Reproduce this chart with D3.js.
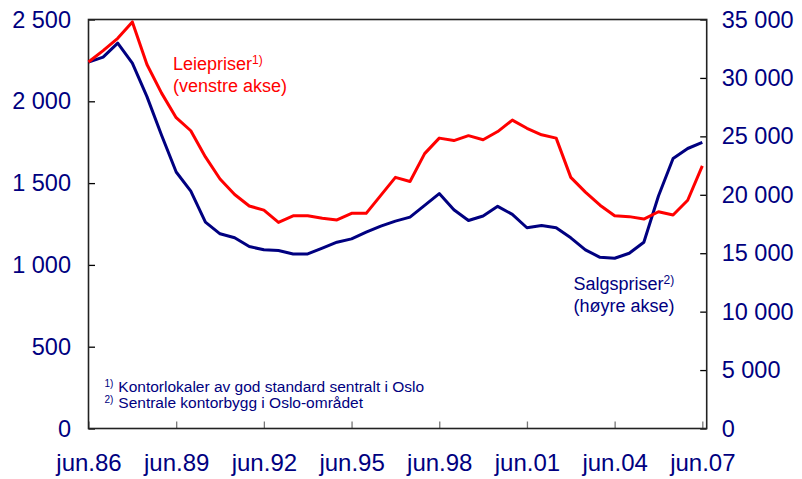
<!DOCTYPE html>
<html>
<head>
<meta charset="utf-8">
<script src="https://cdn.jsdelivr.net/npm/d3@7"></script>
<style>
  body { margin: 0; background: #fff; }
  text { font-family: "Liberation Sans", Arial, sans-serif; }
</style>
</head>
<body>
<script>
// Half-yearly observations, jun.86 .. jun.07
const tickLabels = ["jun.86", "jun.89", "jun.92", "jun.95", "jun.98", "jun.01", "jun.04", "jun.07"];

// Leiepriser (venstre akse)
const rent = [2240, 2310, 2385, 2485, 2225, 2050, 1900, 1820, 1660, 1525,
              1430, 1360, 1335, 1260, 1300, 1300, 1285, 1275, 1315, 1315,
              1425, 1535, 1510, 1680, 1775, 1760, 1790, 1765, 1815, 1885,
              1835, 1795, 1775, 1535, 1445, 1365, 1300, 1295, 1280, 1325,
              1305, 1395, 1605];

// Salgspriser (høyre akse)
const sales = [31350, 31780, 32980, 31260, 28400, 25100, 21950, 20320, 17660, 16660,
               16320, 15570, 15290, 15230, 14940, 14940, 15430, 15940, 16230, 16800,
               17320, 17750, 18090, 19090, 20100, 18720, 17800, 18180, 19010, 18320,
               17180, 17380, 17180, 16320, 15290, 14650, 14570, 15000, 15940, 19900,
               23100, 23960, 24480];

const leftTicks = [0, 500, 1000, 1500, 2000, 2500];
const rightTicks = [0, 5000, 10000, 15000, 20000, 25000, 30000, 35000];

const width = 802, height = 479;
const margin = { top: 19.5, bottom: 50.5, left: 88.5, right: 95.3 };
const navy = "#000080";

const locale = d3.formatLocale({ decimal: ",", thousands: " ", grouping: [3], currency: ["", ""] });
const fmt = locale.format(",d");

let svg = d3.select("body")
  .append("svg")
  .attr("width", width)
  .attr("height", height);

// x runs a little past the last observation, like the original
const x = d3.scaleLinear()
  .domain([0, 42.3])
  .range([margin.left, width - margin.right]);

const yL = d3.scaleLinear()
  .domain([0, 2500])
  .range([height - margin.bottom, margin.top]);

const yR = d3.scaleLinear()
  .domain([0, 35000])
  .range([height - margin.bottom, margin.top]);

// Axes
const gx = svg.append("g")
  .attr("transform", `translate(0,${height - margin.bottom})`)
  .call(d3.axisBottom(x)
    .tickValues(tickLabels.map((d, i) => i * 6))
    .tickFormat((d, i) => tickLabels[i])
    .tickSizeInner(-7).tickSizeOuter(0).tickPadding(25));
gx.selectAll(".tick line").attr("stroke", "#777").attr("stroke-width", 1.3);

const gl = svg.append("g")
  .attr("transform", `translate(${margin.left},0)`)
  .call(d3.axisLeft(yL)
    .tickValues(leftTicks)
    .tickFormat(fmt)
    .tickSizeInner(-6.5).tickSizeOuter(0).tickPadding(17.5));
gl.selectAll(".tick line").attr("stroke-width", 1.3);

const gr = svg.append("g")
  .attr("transform", `translate(${width - margin.right},0)`)
  .call(d3.axisRight(yR)
    .tickValues(rightTicks)
    .tickFormat(fmt)
    .tickSizeInner(-6.5).tickSizeOuter(0).tickPadding(15));
gr.selectAll(".tick line").attr("stroke-width", 1.3);

svg.selectAll(".domain").remove();
svg.selectAll(".tick text")
  .attr("fill", navy)
  .style("font-size", "23.5px")
  .style("font-family", "'Liberation Sans', Arial, sans-serif");
gx.selectAll(".tick text").style("font-size", "24px");

// Frame
svg.append("rect")
  .attr("x", margin.left)
  .attr("y", margin.top)
  .attr("width", width - margin.left - margin.right)
  .attr("height", height - margin.top - margin.bottom)
  .attr("fill", "none")
  .attr("stroke", "#222")
  .attr("stroke-width", 1.6);

// Lines
const rentLine = d3.line()
  .x((d, i) => x(i))
  .y(d => yL(d));

const salesLine = d3.line()
  .x((d, i) => x(i))
  .y(d => yR(d));

svg.append("path")
  .datum(sales)
  .attr("fill", "none")
  .attr("stroke", navy)
  .attr("stroke-width", 3)
  .attr("stroke-linejoin", "round")
  .attr("d", salesLine);

svg.append("path")
  .datum(rent)
  .attr("fill", "none")
  .attr("stroke", "#ff0000")
  .attr("stroke-width", 3)
  .attr("stroke-linejoin", "round")
  .attr("d", rentLine);

// Series labels
function label(xPos, yPos, lines, sup, color) {
  const t = svg.append("g").attr("fill", color).style("font-size", "18px");
  const first = t.append("text").attr("x", xPos).attr("y", yPos);
  first.append("tspan").text(lines[0]);
  first.append("tspan").attr("dy", -6).style("font-size", "12px").text(sup);
  t.append("text").attr("x", xPos).attr("y", yPos + 21.5).text(lines[1]);
}
label(173, 70, ["Leiepriser", "(venstre akse)"], "1)", "#ff0000");
label(573.5, 290, ["Salgspriser", "(høyre akse)"], "2)", navy);

// Footnotes
const notes = [
  ["1)", "Kontorlokaler av god standard sentralt i Oslo"],
  ["2)", "Sentrale kontorbygg i Oslo-området"]
];
notes.forEach((n, i) => {
  const t = svg.append("text")
    .attr("x", 104.5)
    .attr("y", 391.5 + i * 16.5)
    .attr("fill", navy)
    .style("font-size", "15.5px");
  t.append("tspan").attr("dy", -5).style("font-size", "10px").text(n[0]);
  t.append("tspan").attr("x", 118.3).attr("dy", 5).text(n[1]);
});
</script>
</body>
</html>
